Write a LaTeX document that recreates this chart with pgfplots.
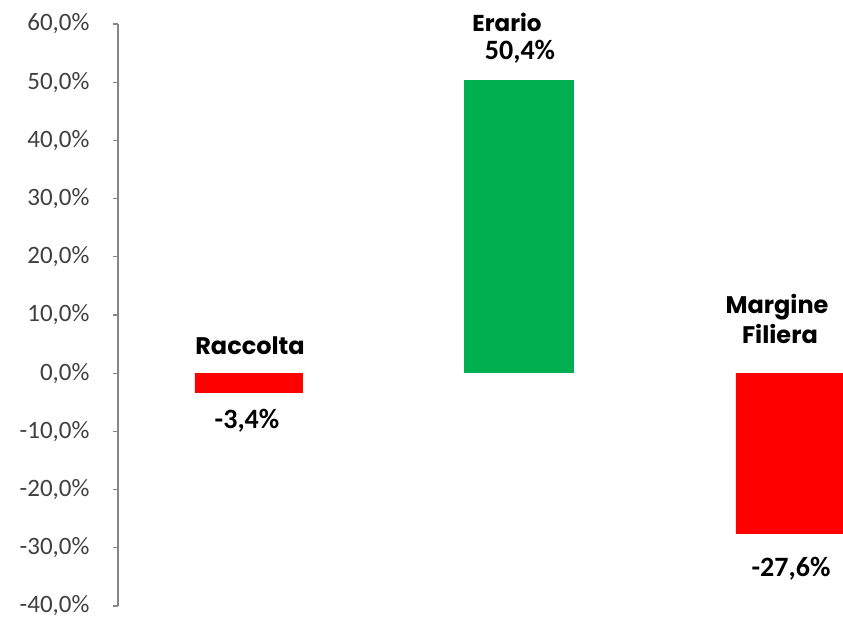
\documentclass[border=0pt]{standalone}
\usepackage{fontspec}
\setmainfont{Carlito}
\newfontfamily\gothic{Poppins}[UprightFont=* Bold]
\usepackage{pgfplots}
\pgfplotsset{compat=1.18}
\definecolor{barred}{HTML}{FF0000}
\definecolor{bargreen}{HTML}{00B050}
\definecolor{axgray}{HTML}{868686}
\definecolor{ticktxt}{HTML}{404040}
\begin{document}
\begin{tikzpicture}
\path[use as bounding box] (-118pt,-15pt) rectangle (725pt,606pt);
\begin{axis}[
  scale only axis,
  width=725pt, height=582pt,
  at={(0pt,0pt)}, anchor=south west,
  xmin=-0.484, xmax=2.196,
  ymin=-40, ymax=60,
  axis x line=none,
  axis y line*=left,
  y axis line style={axgray, line width=1.2pt, -},
  ytick={-40,-30,...,60},
  tick align=outside,
  major tick length=5pt,
  ytick style={axgray, line width=1.2pt},
  yticklabel={\pgfmathprintnumber[fixed,fixed zerofill,precision=1,use comma]{\tick}\%},
  /pgf/number format/assume math mode=true,
  yticklabel style={font=\fontsize{25}{25}\selectfont, text=ticktxt, xshift=-20pt},
  clip=false,
]
\addplot[ybar, bar width=108pt, fill=barred, draw=none] coordinates {(0,-3.4) (2,-27.6)};
\addplot[ybar, bar width=110pt, fill=bargreen, draw=none] coordinates {(1,50.4)};
\node[anchor=base, font=\gothic\fontsize{24}{24}\selectfont] at (axis cs:0.004,3.26) {Raccolta};
\node[anchor=base, font=\bfseries\fontsize{28}{28}\selectfont] at (axis cs:-0.007,-9.45) {-3,4\%};
\node[anchor=base, font=\gothic\fontsize{23}{23}\selectfont] at (axis cs:0.954,58.76) {Erario};
\node[anchor=base, font=\bfseries\fontsize{28}{28}\selectfont] at (axis cs:1.002,53.95) {50,4\%};
\node[anchor=base, font=\gothic\fontsize{24}{24}\selectfont] at (axis cs:1.952,10.31) {Margine};
\node[anchor=base, font=\gothic\fontsize{24}{24}\selectfont] at (axis cs:1.963,5.15) {Filiera};
\node[anchor=base, font=\bfseries\fontsize{28}{28}\selectfont] at (axis cs:2.004,-34.88) {-27,6\%};
\end{axis}
\end{tikzpicture}
\end{document}
